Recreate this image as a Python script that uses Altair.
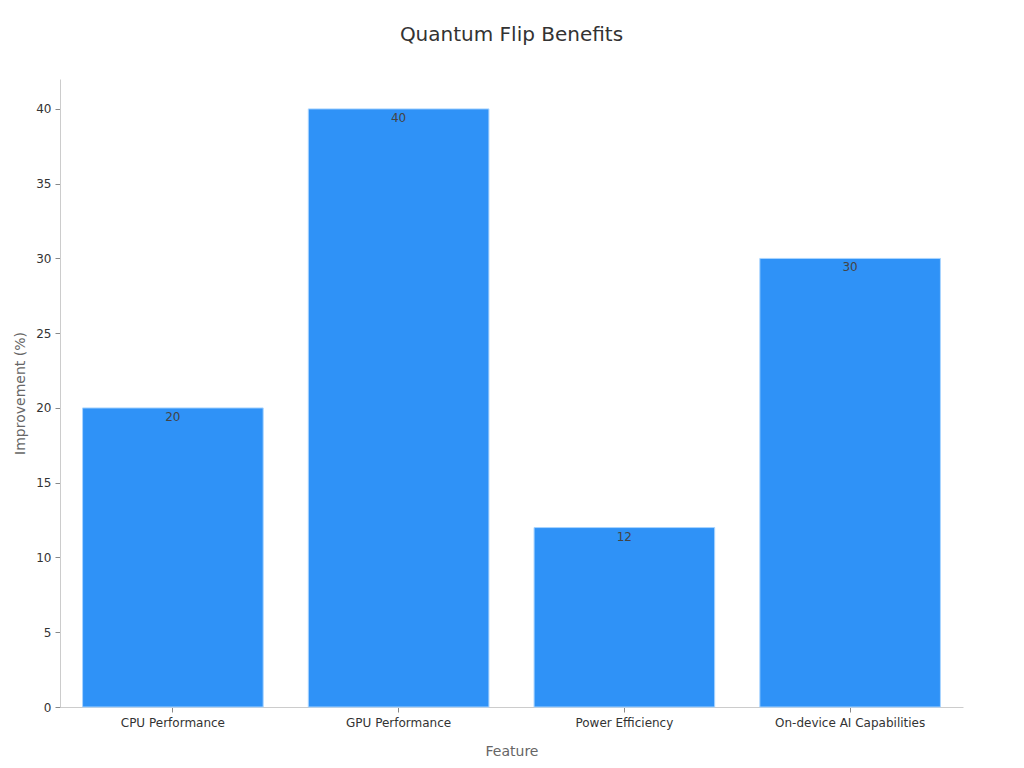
import altair as alt
import pandas as pd

features = ["CPU Performance", "GPU Performance", "Power Efficiency", "On-device AI Capabilities"]
improvements = [20, 40, 12, 30]

df = pd.DataFrame({"Feature": features, "Improvement": improvements})

FONT = "DejaVu Sans"

base = alt.Chart(df).encode(
    x=alt.X(
        "Feature:N",
        sort=features,
        title="Feature",
        scale=alt.Scale(paddingInner=0.2, paddingOuter=0.1),
        axis=alt.Axis(
            labelAngle=0,
            labelFontSize=12,
            labelColor="#333333",
            titleFontSize=14,
            titleColor="#666666",
            titleFontWeight="normal",
            titlePadding=16,
            domainColor="#cccccc",
            tickColor="#888888",
            tickSize=5,
            labelPadding=5,
            grid=False,
        ),
    ),
    y=alt.Y(
        "Improvement:Q",
        title="Improvement (%)",
        scale=alt.Scale(domain=[0, 42], nice=False),
        axis=alt.Axis(
            values=[0, 5, 10, 15, 20, 25, 30, 35, 40],
            labelFontSize=12,
            labelColor="#333333",
            titleFontSize=14,
            titleColor="#666666",
            titleFontWeight="normal",
            titlePadding=8,
            domainColor="#cccccc",
            tickColor="#888888",
            tickSize=5,
            labelPadding=4,
            grid=False,
        ),
    ),
)

bars = base.mark_bar(color="#2f92f7", stroke="#a8d4ff", strokeWidth=1)
labels = base.mark_text(baseline="top", dy=4, fontSize=12, color="#444444", font=FONT).encode(
    text="Improvement:Q"
)

chart = (
    (bars + labels)
    .properties(
        width=903,
        height=628,
        padding={"left": 5, "top": 17, "right": 5, "bottom": 5},
        title=alt.TitleParams(
            "Quantum Flip Benefits", fontSize=20, fontWeight="normal", color="#333333", offset=34, anchor="middle"
        ),
    )
    .configure(font=FONT)
    .configure_view(stroke=None)
)

chart.save("out.html", embed_options={"renderer": "svg", "actions": False})
